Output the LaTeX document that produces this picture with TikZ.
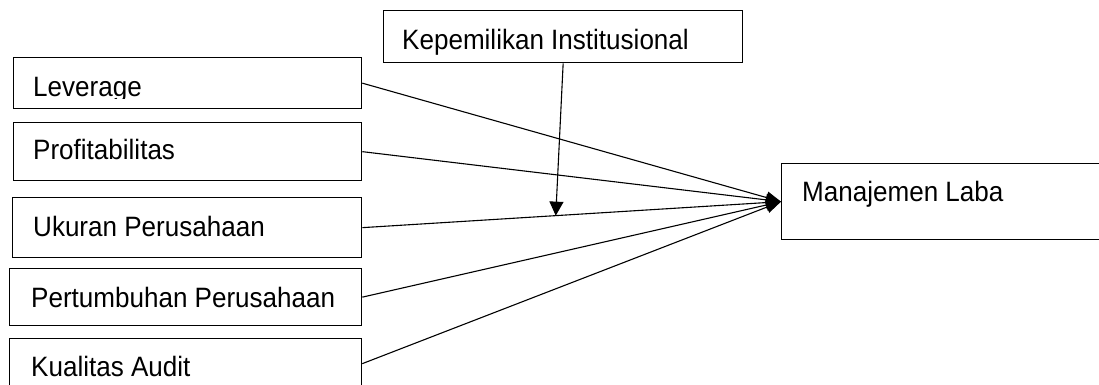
\documentclass[tikz,border=0pt]{standalone}
\usepackage{fontspec}
\setmainfont[FakeStretch=0.93]{Liberation Sans}
\usetikzlibrary{arrows.meta,calc}
\begin{document}
\begin{tikzpicture}[x=1pt,y=-1pt,
  varbox/.style={draw,line width=1.3pt,rectangle,inner sep=0pt,anchor=north west},
  lbl/.style={anchor=base west,inner sep=0pt,font=\fontsize{28}{32}\selectfont},
  link/.style={line width=1.1pt,-{Triangle[length=15pt,width=12pt]}},
  modlink/.style={line width=1.1pt,-{Triangle[length=14pt,width=14pt]}}]
\clip (0,0) rectangle (1099,385);
\fill[white] (0,0) rectangle (1099,385);

% variable boxes
\node[varbox,minimum width=359pt,minimum height=52pt] (kep) at (383,10) {};
\node[varbox,minimum width=348pt,minimum height=51pt] (lev) at (13,57) {};
\node[varbox,minimum width=348pt,minimum height=58pt] (prof) at (13,122) {};
\node[varbox,minimum width=349pt,minimum height=60pt] (uk) at (12,197) {};
\node[varbox,minimum width=352pt,minimum height=57pt] (pert) at (9,268) {};
\node[varbox,minimum width=352pt,minimum height=50pt] (kual) at (9,338) {};
\node[varbox,minimum width=325pt,minimum height=76pt] (mgr) at (781,163) {};

% labels
\node[lbl] (kept) at (402,50) {Kepemilikan Institusional};
\begin{scope}
  \clip (13,57) rectangle (361,99);
  \node[lbl] (levt) at (33,97) {Leverage};
\end{scope}
\node[lbl] (proft) at (33,159) {Profitabilitas};
\node[lbl] (ukt) at (33,236) {Ukuran Perusahaan};
\node[lbl] (pertt) at (31,307) {Pertumbuhan Perusahaan};
\node[lbl] (kualt) at (31,376) {Kualitas Audit};
\node[lbl] (mgrt) at (802,201) {Manajemen Laba};

% paths to the dependent variable
\draw[link] (lev.east) -- (mgr.west);
\draw[link] (prof.east) -- (mgr.west);
\draw[link] (uk.east) -- (mgr.west);
\draw[link] (pert.east) -- (mgr.west);
\draw[link] (kual.east) -- (mgr.west);

% moderating effect onto the Ukuran Perusahaan path
\coordinate (mod) at ($(uk.east)!0.462!(mgr.west)$);
\draw[modlink] (kep.south) -- (mod);
\end{tikzpicture}
\end{document}
